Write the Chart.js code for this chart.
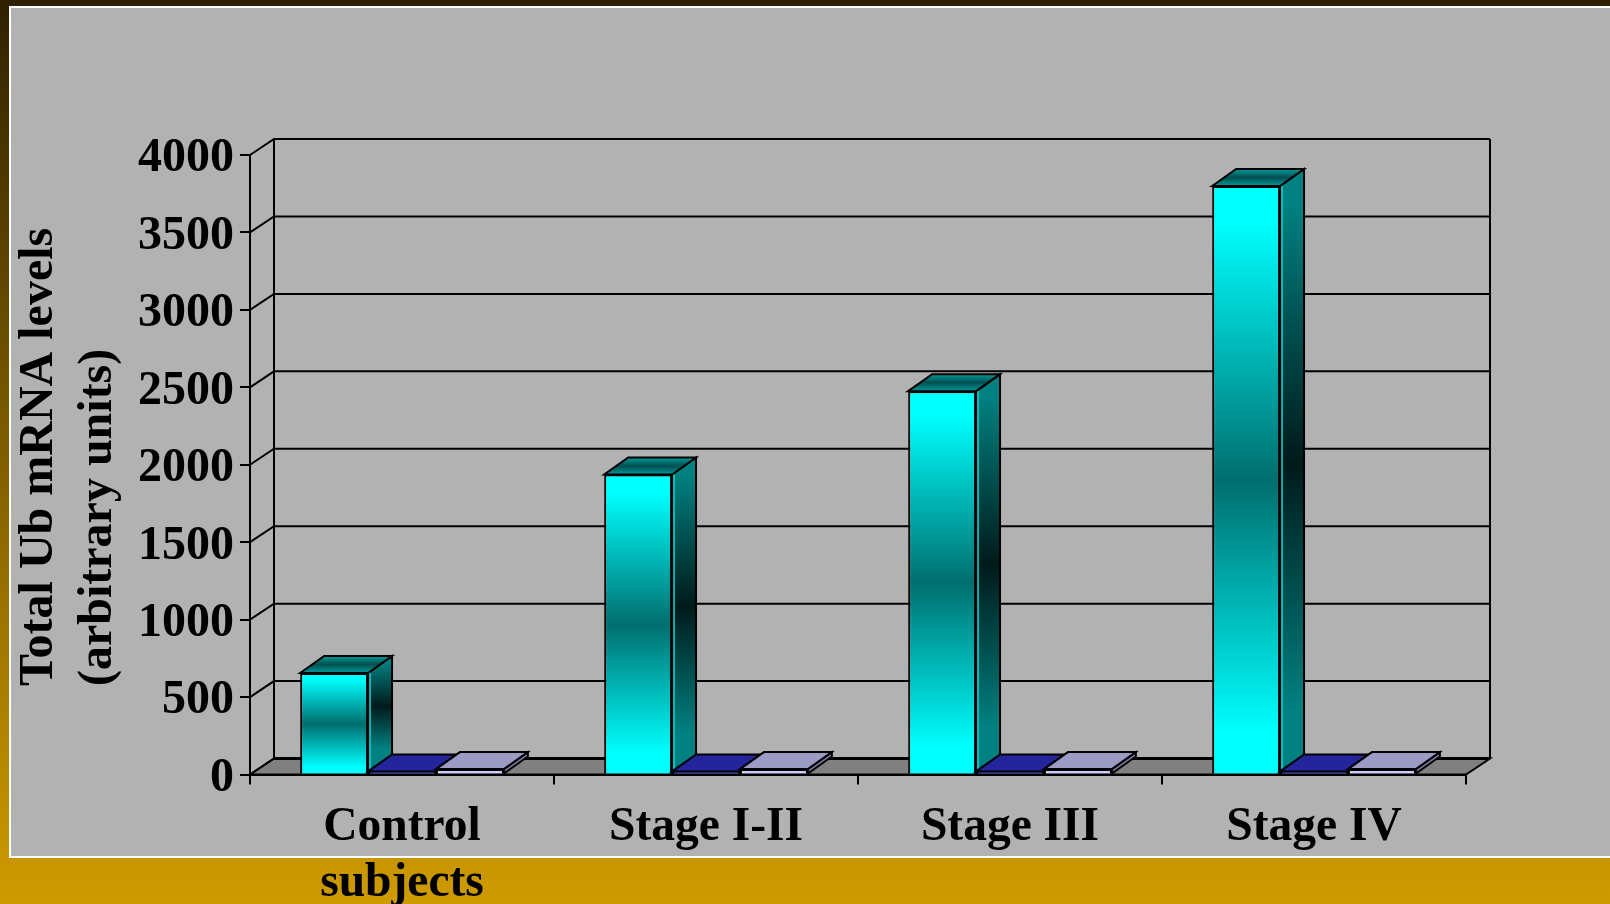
<!DOCTYPE html>
<html>
<head>
<meta charset="utf-8">
<title>Total Ub mRNA levels</title>
<script src="https://cdn.jsdelivr.net/npm/chart.js@4"></script>
<style>
  html, body { margin: 0; padding: 0; width: 1610px; height: 904px; overflow: hidden; }
  body { background: linear-gradient(180deg, #2f2000 0%, #cf9b00 100%); position: relative; }
  #panel { position: absolute; left: 9px; top: 6px; width: 1601px; height: 848px; background: #b2b2b2;
           border: 2px solid #fff; border-right: 0; }
  canvas { position: absolute; left: 0; top: 0; }
</style>
</head>
<body>
<div id="panel"></div>
<canvas id="myChart" width="1610" height="904"></canvas>
<script>
// Values
const categories = [['Control', 'subjects'], 'Stage I-II', 'Stage III', 'Stage IV'];
const ubValues = [655, 1937, 2475, 3800];
const secondValues = [20, 20, 20, 20];
const thirdValues = [35, 35, 35, 35];
const yTitleLines = ['Total Ub mRNA levels', '(arbitrary units)'];

const serif = 'Liberation Serif, Times New Roman, serif';

// depth of the fake 3D box
const wallX = 24, wallY = 16;
const barX = 24, barY = 17;

function ubGradient(c) {
  if (c.type !== 'data') return '#00ffff';
  const y = c.chart.scales.y;
  if (!y) return '#00ffff';
  const top = y.getPixelForValue(c.raw), bottom = y.getPixelForValue(0);
  // scales have no pixels yet on the first pass
  if (!isFinite(top) || !isFinite(bottom)) return '#00ffff';
  const g = c.chart.ctx.createLinearGradient(0, top, 0, bottom);
  g.addColorStop(0, '#00ffff');
  g.addColorStop(0.06, '#00ffff');
  g.addColorStop(0.5, '#006e6e');
  g.addColorStop(0.93, '#00ffff');
  g.addColorStop(1, '#00ffff');
  return g;
}

function face(ctx, pts, fill) {
  ctx.beginPath();
  ctx.moveTo(pts[0][0], pts[0][1]);
  for (let i = 1; i < pts.length; i++) ctx.lineTo(pts[i][0], pts[i][1]);
  ctx.closePath();
  ctx.fillStyle = fill;
  ctx.fill();
  ctx.lineWidth = 2;
  ctx.strokeStyle = '#000';
  ctx.lineJoin = 'miter';
  ctx.stroke();
}

const depthColors = [
  { top: null, side: null },
  { top: '#24249b', side: '#1a1a70' },
  { top: '#9b9bc4', side: '#7f7fa5' }
];

function drawBox(ctx, bar, i) {
  const p = bar.getProps(['x', 'y', 'base', 'width'], true);
  const l = p.x - p.width / 2, r = p.x + p.width / 2;
  let top = depthColors[i].top, side = depthColors[i].side;
  if (i === 0) {
    top = ctx.createLinearGradient(0, p.y - barY, 0, p.y);
    top.addColorStop(0, '#009a9a');
    top.addColorStop(0.5, '#004f4f');
    top.addColorStop(1, '#009a9a');
    side = ctx.createLinearGradient(0, p.y - barY, 0, p.base - barY);
    side.addColorStop(0, '#008080');
    side.addColorStop(0.06, '#008080');
    side.addColorStop(0.5, '#001a1a');
    side.addColorStop(0.92, '#008080');
    side.addColorStop(1, '#008080');
  }
  face(ctx, [[r, p.y], [r + barX, p.y - barY], [r + barX, p.base - barY], [r, p.base]], side);
  face(ctx, [[l, p.y], [l + barX, p.y - barY], [r + barX, p.y - barY], [r, p.y]], top);
  if (i === 0) {
    // thin light edge next to the front face
    ctx.beginPath();
    ctx.moveTo(r + 2, p.y);
    ctx.lineTo(r + 2, p.base - 2);
    ctx.lineWidth = 1.5;
    ctx.strokeStyle = '#00d8d8';
    ctx.stroke();
  }
}

const boxPlugin = {
  id: 'box3d',
  beforeDatasetsDraw(chart) {
    const ctx = chart.ctx, a = chart.chartArea, y = chart.scales.y;
    const floorY = y.getPixelForValue(0);
    ctx.save();
    // floor
    face(ctx, [[a.left, floorY], [a.left + wallX, floorY - wallY], [a.right + wallX, floorY - wallY], [a.right, floorY]], '#808080');
    // back wall and left wall lines
    ctx.strokeStyle = '#000';
    ctx.lineWidth = 2;
    ctx.beginPath();
    y.ticks.forEach(t => {
      const py = y.getPixelForValue(t.value);
      ctx.moveTo(a.left, py);
      ctx.lineTo(a.left + wallX, py - wallY);
      ctx.lineTo(a.right + wallX, py - wallY);
    });
    const topY = y.getPixelForValue(4000) - wallY;
    ctx.moveTo(a.left + wallX, floorY - wallY);
    ctx.lineTo(a.left + wallX, topY);
    ctx.moveTo(a.right + wallX, floorY - wallY);
    ctx.lineTo(a.right + wallX, topY);
    ctx.stroke();
    ctx.lineWidth = 3;
    ctx.beginPath();
    ctx.moveTo(a.left + wallX, floorY - wallY);
    ctx.lineTo(a.right + wallX, floorY - wallY);
    ctx.stroke();
    // bars left to right so each one sits over the side of the previous one
    chart.data.datasets.forEach((ds, i) => {
      chart.getDatasetMeta(i).data.forEach(bar => {
        drawBox(ctx, bar, i);
        bar.draw(ctx);
      });
    });
    ctx.restore();
    return false;
  },
  afterDraw(chart) {
    const ctx = chart.ctx;
    ctx.save();
    ctx.fillStyle = '#000';
    ctx.font = 'bold 48px ' + serif;
    ctx.textAlign = 'left';
    ctx.textBaseline = 'alphabetic';
    yTitleLines.forEach((line, i) => {
      ctx.save();
      ctx.translate(52 + i * 59, 686);
      ctx.rotate(-Math.PI / 2);
      ctx.fillText(line, 0, 0);
      ctx.restore();
    });
    ctx.restore();
  }
};

new Chart(document.getElementById('myChart'), {
  type: 'bar',
  data: {
    labels: categories,
    datasets: [
      { label: 'Ub', data: ubValues, backgroundColor: ubGradient },
      { label: 'Second', data: secondValues, backgroundColor: '#3030c8' },
      { label: 'Third', data: thirdValues, backgroundColor: '#ccccff' }
    ]
  },
  options: {
    responsive: false,
    animation: false,
    events: [],
    layout: { padding: { top: 155, right: 144, left: 0, bottom: 0 } },
    datasets: {
      bar: { categoryPercentage: 0.67, barPercentage: 1, borderColor: '#000', borderWidth: 2 }
    },
    plugins: { legend: { display: false }, tooltip: { enabled: false }, title: { display: false } },
    scales: {
      x: {
        afterFit(s) { s.height = 129.5; },
        grid: { drawOnChartArea: false, tickLength: 10, color: '#000', lineWidth: 2 },
        border: { color: '#000', width: 2 },
        ticks: {
          autoSkip: false, maxRotation: 0, color: '#000', padding: 15.5,
          font: { family: serif, weight: 'bold', size: 47.5, lineHeight: 1.18 }
        }
      },
      y: {
        min: 0, max: 4000,
        afterFit(s) { s.width = 250; },
        grid: { drawOnChartArea: false, tickLength: 10, color: '#000', lineWidth: 2 },
        border: { color: '#000', width: 2 },
        ticks: {
          stepSize: 500, color: '#000', padding: 6, labelOffset: 4,
          font: { family: serif, weight: 'bold', size: 48 },
          callback: v => String(v)
        }
      }
    }
  },
  plugins: [boxPlugin]
});
</script>
</body>
</html>
